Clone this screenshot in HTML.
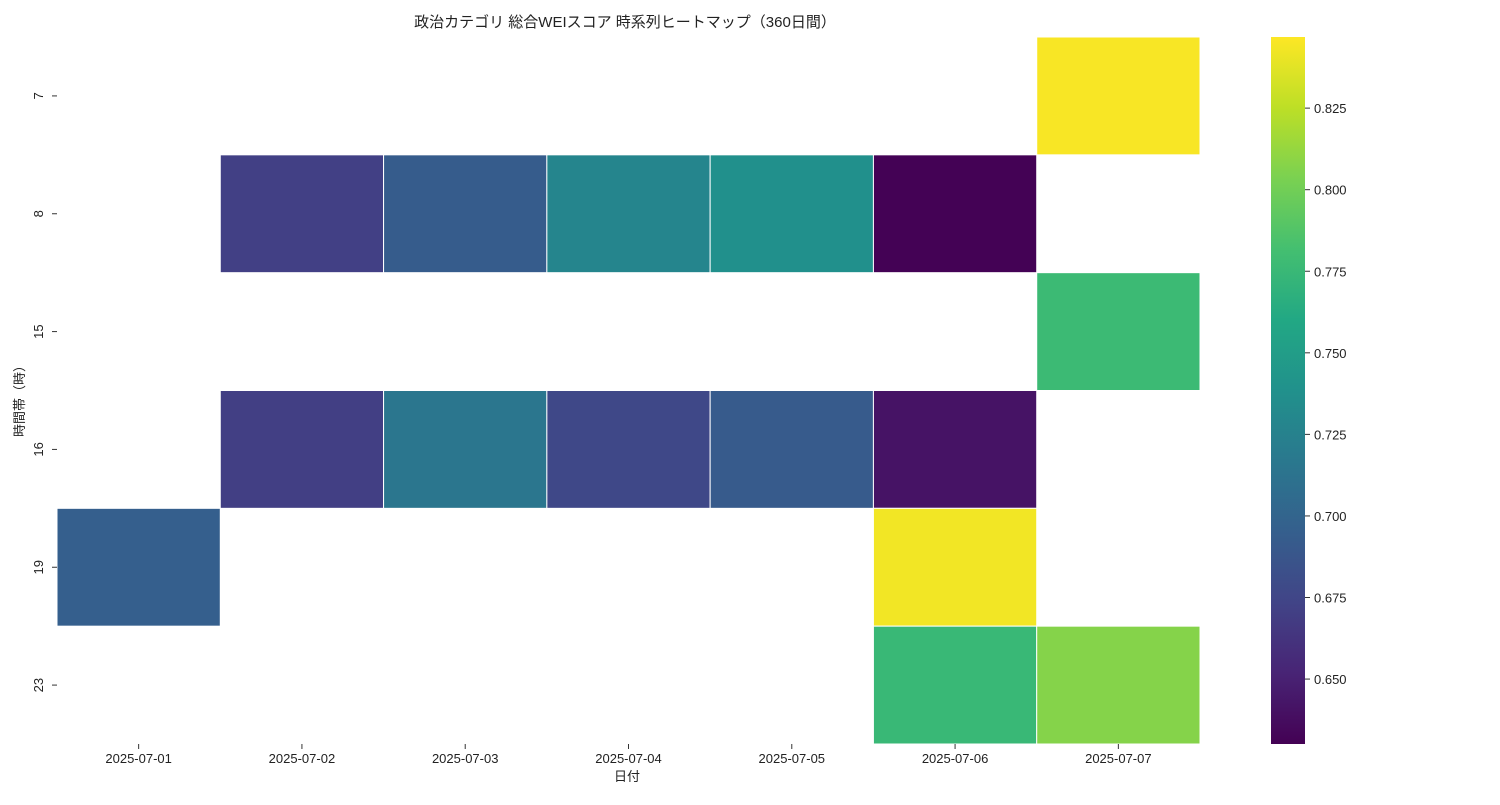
<!DOCTYPE html>
<html><head><meta charset="utf-8">
<style>
body{margin:0;background:#fff;}
svg{font-family:"Liberation Sans","Noto Sans CJK JP",sans-serif;}
</style></head>
<body>
<svg id="chart" width="1500" height="800" xmlns="http://www.w3.org/2000/svg">
<text x="625" y="27" text-anchor="middle" font-size="15" fill="#222">政治カテゴリ 総合WEIスコア 時系列ヒートマップ（360日間）</text>
<g id="cells"></g>
<g id="xaxis"></g>
<g id="yaxis"></g>
<text x="627" y="781" text-anchor="middle" font-size="13" fill="#222">日付</text>
<text transform="translate(24,398) rotate(-90)" text-anchor="middle" font-size="13" fill="#222">時間帯（時）</text>
<defs><linearGradient id="vg" x1="0" y1="1" x2="0" y2="0"></linearGradient></defs>
<rect x="1271" y="37" width="34" height="707" fill="url(#vg)"/>
<g id="cbar"></g>
</svg>
<script>
const dates=["2025-07-01","2025-07-02","2025-07-03","2025-07-04","2025-07-05","2025-07-06","2025-07-07"];
const hours=["7","8","15","16","19","23"];
const cellDates=[6,1,2,3,4,5,6,1,2,3,4,5,0,5,5,6];
const cellHours=[0,1,1,1,1,1,2,3,3,3,3,3,4,4,5,5];
const cellValues=[0.845,0.671,0.693,0.728,0.738,0.631,0.777,0.670,0.715,0.677,0.692,0.641,0.695,0.843,0.775,0.807];
const cbTicks=[0.650,0.675,0.700,0.725,0.750,0.775,0.800,0.825];
const vmin=0.6301,vmax=0.8468;
const stops=["#440154","#482475","#414487","#355f8d","#2a788e","#21918c","#22a884","#44bf70","#7ad151","#bddf26","#fde725"];
const NS="http://www.w3.org/2000/svg";
const X0=57,X1=1200,Y0=37,Y1=744;
const cw=(X1-X0)/dates.length,ch=(Y1-Y0)/hours.length;
const xs=i=>X0+i*cw, ys=i=>Y0+i*ch;
const cy=v=>Y1-(v-vmin)/(vmax-vmin)*(Y1-Y0);
function hex(h){return [1,3,5].map(i=>parseInt(h.substr(i,2),16));}
function viridis(t){t=Math.max(0,Math.min(1,t));const p=t*10,i=Math.min(9,Math.floor(p)),f=p-i;const a=hex(stops[i]),b=hex(stops[i+1]);return "rgb("+a.map((c,k)=>Math.round(c+(b[k]-c)*f)).join(",")+")";}
function mk(tag,attrs,parent){const e=document.createElementNS(NS,tag);for(const k in attrs)e.setAttribute(k,attrs[k]);parent.appendChild(e);return e;}
const g=document.getElementById('vg');
stops.forEach((s,i)=>mk('stop',{offset:i/10,'stop-color':s},g));
const cells=document.getElementById('cells');
cellValues.forEach((v,i)=>{const r=mk('rect',{x:xs(cellDates[i]),y:ys(cellHours[i]),width:cw,height:ch,fill:viridis((v-vmin)/(vmax-vmin)),stroke:"#fff","stroke-width":1},cells);

});
const xa=document.getElementById('xaxis');
dates.forEach((d,i)=>{const cx=xs(i)+cw/2;mk('line',{x1:cx,x2:cx,y1:744,y2:749,stroke:"#333"},xa);
const t=mk('text',{x:cx,y:763,'text-anchor':'middle','font-size':13,fill:'#222'},xa);t.textContent=d;

});
const ya=document.getElementById('yaxis');
hours.forEach((h,i)=>{const c=ys(i)+ch/2;mk('line',{x1:52,x2:57,y1:c,y2:c,stroke:"#333"},ya);
const t=mk('text',{transform:`translate(43,${c}) rotate(-90)`,'text-anchor':'middle','font-size':13,fill:'#222'},ya);t.textContent=h;

});
const cb=document.getElementById('cbar');
cbTicks.forEach(v=>{const y=cy(v);mk('line',{x1:1305,x2:1310,y1:y,y2:y,stroke:"#333"},cb);
const t=mk('text',{x:1314,y:y+5,'font-size':13,fill:'#222'},cb);t.textContent=v.toFixed(3);

});
</script>
</body></html>
